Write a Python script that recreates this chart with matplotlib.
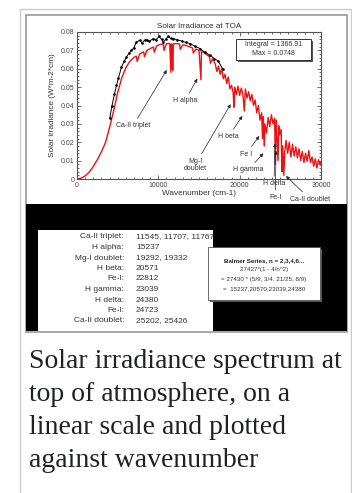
import matplotlib.pyplot as plt
from matplotlib.patches import Rectangle
from matplotlib.ticker import MultipleLocator
import numpy as np

# size of the thumbnail in pixels
W, H = 352, 493

# high resolution spectrum (red), wavenumber cm-1 / W*m-2*cm
red_wn = [0, 500, 1000, 1500, 2000, 2500, 3000, 3500, 4000, 4500, 5000, 5500,
          6000, 6500, 7000, 7300, 7400, 7700, 8000, 8200, 8300, 8600, 9000,
          9400, 9500, 9800, 10200, 10600, 10700, 11000, 11400, 11545, 11600,
          11707, 11740, 11767, 11800, 12200, 12600, 12700, 13000, 13400, 13800,
          14200, 14300, 14600, 15000, 15237, 15300, 15600, 16000, 16300, 16400,
          16700, 17000, 17200, 17400, 17600, 17800, 18000, 18200, 18400, 18600,
          18800, 19000, 19200, 19292, 19332, 19400, 19600, 19800, 20000, 20200,
          20400, 20571, 20700, 20900, 21100, 21300, 21500, 21700, 21900, 22100,
          22300, 22500, 22700, 22812, 22900, 23039, 23100, 23300, 23500, 23700,
          23900, 24100, 24300, 24380, 24500, 24723, 24800, 24900, 25100, 25202,
          25300, 25426, 25550, 25700, 25900, 26100, 26300, 26500, 26700, 26900,
          27100, 27300, 27500, 27700, 27900, 28100, 28300, 28500, 28700, 28900,
          29100, 29300, 29500, 29700, 29900, 30000]
red_val = [0.0, 0.0004, 0.0017, 0.0037, 0.0068, 0.0105, 0.0148, 0.0198, 0.0280,
           0.0370, 0.0470, 0.0550, 0.0605, 0.0640, 0.0662, 0.0668, 0.0640,
           0.0680, 0.0688, 0.0692, 0.0665, 0.0700, 0.0710, 0.0718, 0.0690,
           0.0725, 0.0732, 0.0735, 0.0700, 0.0737, 0.0737, 0.0580, 0.0735,
           0.0600, 0.0730, 0.0590, 0.0735, 0.0737, 0.0735, 0.0705, 0.0730,
           0.0727, 0.0720, 0.0713, 0.0685, 0.0707, 0.0700, 0.0540, 0.0695,
           0.0688, 0.0675, 0.0665, 0.0630, 0.0655, 0.0625, 0.0585, 0.0615,
           0.0570, 0.0600, 0.0545, 0.0570, 0.0520, 0.0555, 0.0490, 0.0510,
           0.0470, 0.0390, 0.0400, 0.0500, 0.0460, 0.0505, 0.0455, 0.0495,
           0.0460, 0.0370, 0.0490, 0.0440, 0.0475, 0.0425, 0.0460, 0.0400,
           0.0430, 0.0360, 0.0400, 0.0320, 0.0360, 0.0220, 0.0340, 0.0180,
           0.0300, 0.0250, 0.0335, 0.0285, 0.0350, 0.0300, 0.0330, 0.0080,
           0.0320, 0.0100, 0.0290, 0.0240, 0.0270, 0.0040, 0.0180, 0.0020,
           0.0150, 0.0210, 0.0140, 0.0200, 0.0120, 0.0190, 0.0125, 0.0175,
           0.0115, 0.0165, 0.0100, 0.0150, 0.0090, 0.0140, 0.0095, 0.0155,
           0.0090, 0.0120, 0.0070, 0.0110, 0.0060, 0.0105, 0.0075, 0.0095]

# low resolution spectrum (black)
black_wn = [4030, 4300, 4600, 4850, 5100, 5470, 5800, 6080, 6400, 6700, 7000,
            7300, 7700, 8000, 8300, 8550, 8900, 9370, 9700, 10100, 10400, 10600,
            10900, 11200, 11500, 11840, 12300, 12860, 13400, 13900, 14500,
            15120, 15700, 16360, 16900, 17390, 17900]
black_val = [0.0330, 0.0400, 0.0460, 0.0510, 0.0550, 0.0610, 0.0640, 0.0664,
             0.0685, 0.0700, 0.0715, 0.0745, 0.0755, 0.0740, 0.0755, 0.0758,
             0.0750, 0.0764, 0.0758, 0.0776, 0.0760, 0.0745, 0.0760, 0.0776,
             0.0765, 0.0764, 0.0758, 0.0751, 0.0743, 0.0737, 0.0722, 0.0710,
             0.0690, 0.0673, 0.0655, 0.0640, 0.0600]

x_ticks = [0, 10000, 20000, 30000]
y_ticks = [0, 0.01, 0.02, 0.03, 0.04, 0.05, 0.06, 0.07, 0.08]
y_tick_labels = ['0', '0.01', '0.02', '0.03', '0.04', '0.05', '0.06', '0.07', '0.08']

integral = '1366.91'
max_val = '0.0748'

# absorption lines table
line_names = ['Ca-II triplet:', 'H alpha:', 'Mg-I doublet:', 'H beta:', 'Fe-I:',
              'H gamma:', 'H delta:', 'Fe-I:', 'Ca-II doublet:']
line_wn = ['11545, 11707, 11767', '15237', '19292, 19332', '20571', '22812',
           '23039', '24380', '24723', '25202, 25426']

balmer_lines = ['27427*(1 - 4/n^2)',
                '= 27430 * (5/9, 3/4, 21/25, 8/9)',
                '=  15237,20570,23039,24380']

caption = ['Solar irradiance spectrum at', 'top of atmosphere, on a',
           'linear scale and plotted', 'against wavenumber']


def px_rect(x0, y0, x1, y1, **kw):
    """rectangle given in pixels from the top left corner"""
    return Rectangle((x0 / W, 1 - y1 / H), (x1 - x0) / W, (y1 - y0) / H,
                     transform=fig.transFigure, **kw)


plt.rcParams['font.family'] = ['Liberation Sans', 'DejaVu Sans']
fig = plt.figure(figsize=(W / 100, H / 100), dpi=100)

# thumbnail frame and image frame, behind the chart
fig.add_artist(px_rect(19.5, 8.5, 350.5, 500, fill=False, ec='#c8ccd1', lw=1, zorder=-2))
fig.add_artist(px_rect(25.5, 14.5, 346.5, 331.5, fc='white', ec='#999999', lw=1.2, zorder=-1))

# chart
ax = fig.add_axes([77 / W, 1 - 179 / H, 244 / W, 147 / H])
ax.plot(red_wn, red_val, color='#ee1111', lw=1.0, zorder=2)
ax.plot(black_wn, black_val, color='black', lw=0.7, marker='s', ms=0.8, zorder=3)
ax.set_xlim(0, 30000)
ax.set_ylim(0, 0.08)
ax.set_xticks(x_ticks)
ax.set_xticklabels([str(t) for t in x_ticks])
ax.set_yticks(y_ticks)
ax.set_yticklabels(y_tick_labels)
ax.xaxis.set_minor_locator(MultipleLocator(1000))
ax.yaxis.set_minor_locator(MultipleLocator(0.002))
ax.tick_params(which='both', direction='in', top=True, right=True,
               color='#555555', width=0.6, labelsize=5, labelcolor='#444444', pad=2)
ax.tick_params(which='major', length=3)
ax.tick_params(which='minor', length=1.6)
for s in ax.spines.values():
    s.set_color('#555555')
    s.set_linewidth(0.8)
ax.set_title('Solar Irradiance at TOA', fontsize=5.8, color='#333333', pad=3)
ax.set_xlabel('Wavenumber (cm-1)', fontsize=5.9, color='#333333', labelpad=1)
ax.set_ylabel('Solar irradiance (W*m-2*cm)', fontsize=5.9, color='#333333', labelpad=3)

# arrows to the absorption lines: label, label position, arrow head
notes = [('Ca-II triplet', (6885, 0.0289), (11029, 0.0593)),
         ('H alpha', (13278, 0.0426), (14795, 0.0546)),
         ('Mg-I\ndoublet', (14508, 0.0076), (18893, 0.0407)),
         ('H beta', (18607, 0.0230), (20328, 0.0343)),
         ('Fe I', (20779, 0.0136), (22418, 0.0234)),
         ('H gamma', (21066, 0.0049), (22910, 0.0140)),
         ('H delta', (24221, -0.0027), (24344, 0.0194)),
         ('Fe-I', (24385, -0.0100), (24467, 0.0154)),
         ('Ca-II doublet', (28648, -0.0109), (25697, 0.0016))]
for label, txt_pos, head in notes:
    ax.annotate(label, xy=head, xytext=txt_pos, fontsize=5, color='#333333',
                ha='center', va='center', linespacing=1.1, annotation_clip=False,
                arrowprops=dict(arrowstyle='-|>', color='#222222', lw=0.5,
                                mutation_scale=5, shrinkA=1, shrinkB=0))

# integral / max box with shadow
fig.add_artist(px_rect(238, 41, 313, 62, fc='#555555', ec='none', zorder=3))
fig.add_artist(px_rect(236, 39, 311, 60, fc='white', ec='#333333', lw=0.7, zorder=3))
fig.text(273.5 / W, 1 - 44.5 / H, 'Integral = ' + integral, fontsize=5,
         color='#333333', ha='center', va='center', zorder=4)
fig.text(273.5 / W, 1 - 53.5 / H, 'Max = ' + max_val, fontsize=5,
         color='#333333', ha='center', va='center', zorder=4)

# lower panel with line table
fig.add_artist(px_rect(26, 204, 346.5, 331, fc='black', ec='none'))
fig.add_artist(px_rect(38, 230, 213, 331, fc='white', ec='none'))
for i, (name, wn) in enumerate(zip(line_names, line_wn)):
    y = 1 - (237 + 10.5 * i) / H
    fig.text(124 / W, y, name, fontsize=6, color='#333333', ha='right', va='center')
    fig.text(136 / W, y, wn, fontsize=6, color='#333333', ha='left', va='center')

fig.add_artist(px_rect(210, 249, 322, 302, fc='#555555', ec='none'))
fig.add_artist(px_rect(208, 247, 320, 300, fc='white', ec='#555555', lw=0.6))
fig.text(264 / W, 1 - 261 / H, 'Balmer Series, n = 2,3,4,6...', fontsize=4.5,
         fontweight='bold', color='#222222', ha='center', va='center')
for i, line in enumerate(balmer_lines):
    fig.text(264 / W, 1 - (270 + 9.3 * i) / H, line, fontsize=4.5,
             color='#333333', ha='center', va='center')

# caption
for i, line in enumerate(caption):
    fig.text(29 / W, 1 - (368 + 33 * i) / H, line, fontsize=20,
             family='Liberation Serif', color='#202122', ha='left', va='baseline')

plt.savefig('out.png', dpi=100)
